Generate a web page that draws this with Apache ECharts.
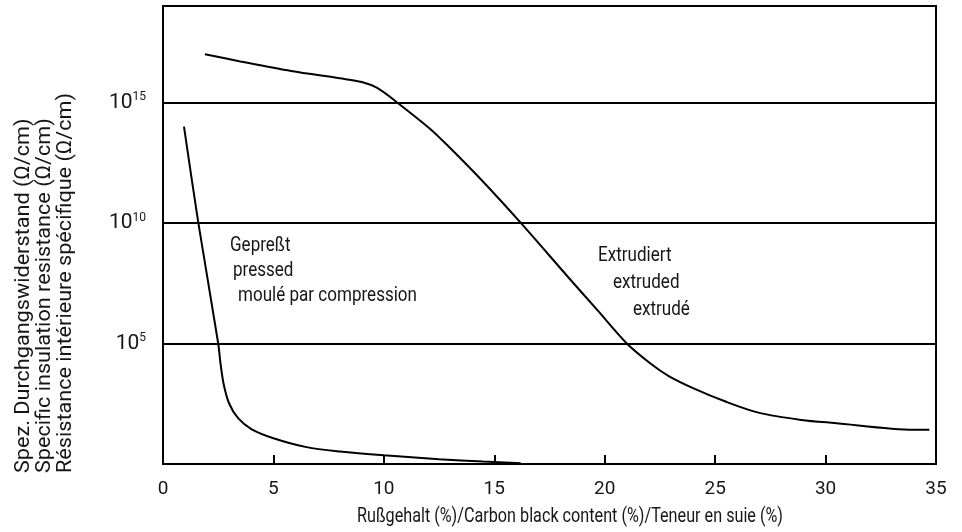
<!DOCTYPE html>
<html>
<head>
<meta charset="utf-8">
<title>Spez. Durchgangswiderstand / Rußgehalt</title>
<script src="https://cdn.jsdelivr.net/npm/echarts@6/dist/echarts.min.js"></script>
<style>
  html, body { margin: 0; padding: 0; background: #fff; }
  #chart { width: 962px; height: 532px; }
</style>
</head>
<body>
<div id="chart"></div>
<script>
// Carbon black content (%) and specific resistance as decimal exponent (Ω·cm = 10^value)
const pressedX   = [0.95, 1.6, 2.5, 2.6, 2.75, 3.0, 3.4, 4.0, 5.0, 6.5, 8.0, 10.0, 12.5, 14.5, 16.2];
const pressedExp = [14.0, 10.0, 5.0, 4.2, 3.3, 2.5, 1.9, 1.45, 1.07, 0.7, 0.52, 0.36, 0.2, 0.1, 0.03];

const extrudedX   = [1.9, 3.5, 5.8, 8.0, 9.0, 9.7, 10.6, 12.1, 12.9, 14.4, 16.2, 18.3, 19.7, 21.0, 22.1, 22.9, 24.0, 25.5, 27.0, 28.9, 30.4, 34.0, 34.7];
const extrudedExp = [17.0, 16.7, 16.3, 16.0, 15.85, 15.6, 15.0, 13.9, 13.2, 11.8, 10.0, 7.8, 6.35, 5.0, 4.15, 3.65, 3.15, 2.58, 2.12, 1.83, 1.7, 1.42, 1.42];

const xTicks = [0, 5, 10, 15, 20, 25, 30, 35];
const yTickExps = [5, 10, 15];

const xTitle = 'Rußgehalt (%)/Carbon black content (%)/Teneur en suie (%)';
const yTitleLines = [
  'Spez. Durchgangswiderstand (Ω/cm)',
  'Specific insulation resistance (Ω/cm)',
  'Résistance intérieure spécifique (Ω/cm)'
];
const pressedLabels = ['Gepreßt', 'pressed', 'moulé par compression'];
const extrudedLabels = ['Extrudiert', 'extruded', 'extrudé'];

const FONT = 'Roboto, "DejaVu Sans", sans-serif';
const INK = '#161616';

function pairs(xs, ys) { return xs.map((x, i) => [x, ys[i]]); }

// Horizontal squeeze so a regular face reads like a condensed one at a given width
const measureCtx = document.createElement('canvas').getContext('2d');
function squeeze(lines, font, width) {
  measureCtx.font = font;
  const w = Math.max(...lines.map(t => measureCtx.measureText(t).width));
  return width / w;
}

const chart = echarts.init(document.getElementById('chart'), null, { renderer: 'canvas' });

const annoFont = '21px ' + FONT;
const annoScale = squeeze(['moulé par compression'], annoFont, 179);
const labelText = (arr, x0, y0, dx, dy) => arr.map((t, i) => ({
  type: 'text',
  x: x0 + dx[i],
  y: y0 + dy * i,
  scaleX: annoScale,
  style: { text: t, font: annoFont, fill: INK, textVerticalAlign: 'middle' }
}));

const yTitleFont = '21px ' + FONT;
const xTitleFont = '20px ' + FONT;

chart.setOption({
  animation: false,
  backgroundColor: '#fff',
  grid: {
    left: 163, right: 26, top: 6, bottom: 68,
    show: true, borderColor: '#000', borderWidth: 2, backgroundColor: 'transparent'
  },
  xAxis: {
    type: 'value', min: xTicks[0], max: xTicks[xTicks.length - 1], interval: 5,
    axisLine: { show: true, lineStyle: { color: '#000', width: 2 } },
    axisTick: { show: true, inside: true, length: 9, lineStyle: { color: '#000', width: 2 } },
    axisLabel: { color: INK, fontFamily: FONT, fontSize: 19, margin: 16 },
    splitLine: { show: false }
  },
  yAxis: {
    type: 'value', min: 0, max: 19, interval: 5,
    axisLine: { show: true, lineStyle: { color: '#000', width: 2 } },
    axisTick: { show: false },
    splitLine: { show: true, lineStyle: { color: '#000', width: 2 } },
    axisLabel: {
      margin: 17,
      formatter: v => yTickExps.indexOf(v) >= 0 ? '{b|10}{s|' + v + '}' : '',
      rich: {
        b: { fontFamily: FONT, fontSize: 21, color: INK, lineHeight: 22 },
        s: { fontFamily: FONT, fontSize: 12, color: INK, verticalAlign: 'top', lineHeight: 12 }
      }
    }
  },
  graphic: [
    {
      type: 'text', x: 13, y: 473, rotation: Math.PI / 2,
      scaleX: squeeze(yTitleLines, yTitleFont, 380),
      style: {
        text: yTitleLines.join('\n'), font: yTitleFont, fill: INK,
        textAlign: 'left', textVerticalAlign: 'top', lineHeight: 21
      }
    },
    {
      type: 'text', x: 357, y: 517,
      scaleX: squeeze([xTitle], xTitleFont, 426),
      style: { text: xTitle, font: xTitleFont, fill: INK, textVerticalAlign: 'middle' }
    },
    ...labelText(pressedLabels, 230, 246, [0, 3, 8], 25),
    ...labelText(extrudedLabels, 598, 256, [0, 15, 35], 27)
  ],
  series: [
    {
      type: 'line', data: pairs(pressedX, pressedExp), showSymbol: false,
      smooth: 0.3,
      lineStyle: { color: '#000', width: 2 }
    },
    {
      type: 'line', data: pairs(extrudedX, extrudedExp), showSymbol: false,
      smooth: 0.3,
      lineStyle: { color: '#000', width: 2 }
    }
  ]
});
</script>
</body>
</html>
